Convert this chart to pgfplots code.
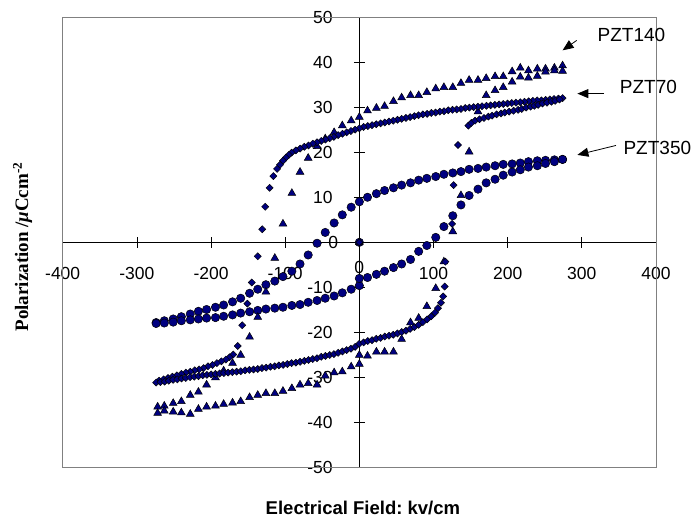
\documentclass[border=0pt]{standalone}
\usepackage{fontspec}
\setmainfont{Liberation Sans}
\newfontfamily\timesbold{Liberation Serif}
\usepackage{pgfplots}
\pgfplotsset{compat=1.18}
\usetikzlibrary{arrows.meta}
\definecolor{navy}{RGB}{0,0,128}
\frenchspacing

\begin{document}
\begin{tikzpicture}
\useasboundingbox (-62.7pt,-56.3pt) rectangle (630.3pt,467.7pt);
\begin{axis}[
  at={(0pt,0pt)}, anchor=south west,
  width=593.3pt, height=450.7pt, scale only axis,
  xmin=-400, xmax=400, ymin=-50, ymax=50,
  axis lines=middle,
  axis line style={-, black, line width=0.7pt},
  every inner x axis line/.append style={-},
  every inner y axis line/.append style={-},
  xtick={-400,-300,...,400}, ytick={-50,-40,...,50},
  minor tick num=0,
  tick align=center, major tick length=11pt,
  tick style={black, line width=0.7pt},
  /pgf/number format/assume math mode=true,
  ticklabel style={font=\fontsize{17.5pt}{20pt}\selectfont, inner sep=0pt},
  xticklabel style={anchor=north, yshift=-19pt},
  yticklabel style={anchor=east, xshift=-21pt},
  clip=false,
]
\draw[gray, line width=0.8pt] (rel axis cs:0,0) rectangle (rel axis cs:1,1);

% PZT350
\addplot[only marks, mark=*, mark size=4.2pt,
  mark options={fill=navy, draw=black, line width=0.5pt}] coordinates {
 (0,0)
 (274,18.4) (263,18.3) (251,18.2) (240,18.1) (228,17.9) (217,17.6) (206,17.4)
 (194,17.3) (183,17.0) (171,16.7) (160,16.4) (148,16.2) (137,15.7) (126,15.4)
 (114,15.1) (103,14.6) (91,14.2) (80,13.8) (69,13.2) (57,12.7) (46,12.1)
 (34,11.5) (23,10.8) (11,10.0) (0,9.0) (-11,7.8) (-23,6.1) (-34,4.3) (-46,2.2)
 (-57,-0.2) (-69,-2.8) (-80,-4.8) (-91,-6.4) (-103,-7.6) (-114,-8.6) (-126,-9.4)
 (-137,-10.4) (-148,-11.3) (-160,-12.4) (-171,-13.2) (-183,-13.9) (-194,-14.4)
 (-206,-14.9) (-217,-15.3) (-228,-15.9) (-240,-16.5) (-251,-17.0) (-263,-17.4)
 (-274,-17.8)
 (-274,-18.0) (-263,-17.9) (-251,-17.7) (-240,-17.4) (-228,-17.2) (-217,-17.0)
 (-206,-16.8) (-194,-16.7) (-183,-16.4) (-171,-16.1) (-160,-15.7) (-148,-15.4)
 (-137,-15.1) (-126,-14.8) (-114,-14.6) (-103,-14.4) (-91,-14.0) (-80,-13.8)
 (-69,-13.3) (-57,-12.9) (-46,-12.4) (-34,-11.9) (-23,-11.2) (-11,-10.4)
 (0,-9.6) (0,-8.0) (11,-7.8) (23,-7.1) (34,-6.4) (46,-5.6) (57,-4.8) (69,-3.8)
 (80,-2.0) (91,-0.7) (103,1.1) (114,3.5) (126,5.9) (137,8.3) (148,10.4)
 (160,11.8) (171,13.2) (183,14.0) (194,14.9) (206,15.6) (217,16.1) (228,16.7)
 (240,17.0) (251,17.5) (263,17.9) (274,18.4)
};

% PZT140
\addplot[only marks, mark=triangle*, mark size=4.5pt,
  mark options={fill=navy, draw=black, line width=0.5pt}] coordinates {
 (0,0)
 (274,39.2) (263,38.7) (251,38.5) (240,38.5) (228,38.1) (217,38.7) (206,37.9)
 (194,36.8) (183,36.8) (171,36.4) (160,36.0) (148,36.0) (137,35.3) (126,34.4)
 (114,34.4) (103,34.1) (91,33.3) (80,32.6) (69,32.6) (57,32.1) (46,31.3)
 (34,30.2) (23,29.8) (11,29.2) (0,27.8) (-11,27.0) (-23,25.9) (-34,24.4)
 (-46,23.0) (-57,21.3) (-69,18.7) (-80,15.6) (-91,10.9) (-103,4.1)
 (-114,-3.5) (-126,-11.0) (-137,-16.6) (-148,-21.0) (-160,-25.0) (-171,-26.8)
 (-183,-28.5) (-194,-30.0) (-206,-31.6) (-217,-33.2) (-228,-33.9) (-240,-35.3)
 (-251,-35.7) (-263,-36.3) (-272,-36.5)
 (-272,-37.9) (-263,-37.4) (-251,-37.6) (-240,-37.8) (-228,-38.1) (-217,-37.0)
 (-206,-36.5) (-194,-36.3) (-183,-35.9) (-171,-35.6) (-160,-35.3) (-148,-34.4)
 (-137,-33.9) (-126,-33.5) (-114,-33.5) (-103,-33.0) (-91,-32.4) (-80,-31.6)
 (-69,-31.3) (-57,-31.6) (-46,-29.6) (-34,-28.9) (-23,-28.7) (-11,-27.6)
 (0,-27.0) (0,-25.0) (11,-25.2) (23,-24.3) (34,-24.3) (46,-24.3) (57,-21.5)
 (69,-17.8) (80,-16.8) (91,-14.2) (103,-10.2) (114,-4.3) (126,2.4) (137,10.4)
 (148,20.1) (160,29.0) (171,32.6) (183,33.7) (194,34.4) (206,35.6) (217,36.7)
 (228,36.5) (240,36.9) (251,37.8) (263,38.1) (274,38.0)
};

% PZT70
\addplot[only marks, mark=square*, mark size=2.5pt,
  mark options={rotate=45, fill=navy, draw=black, line width=0.5pt}] coordinates {
 (0,0)
 (274.0,32.0) (268.3,31.9) (262.6,31.8) (256.9,31.7) (251.2,31.6) (245.5,31.5)
 (239.8,31.5) (234.0,31.4) (228.3,31.3) (222.6,31.2) (216.9,31.1) (211.2,31.0)
 (205.5,30.9) (199.8,30.8) (194.1,30.7) (188.4,30.6) (182.7,30.5) (177.0,30.4)
 (171.3,30.3) (165.5,30.2) (159.8,30.1) (154.1,30.0) (148.4,29.9) (142.7,29.8)
 (137.0,29.6) (131.3,29.5) (125.6,29.4) (119.9,29.3) (114.2,29.1) (108.5,29.0)
 (102.8,28.8) (97.1,28.7) (91.4,28.5) (85.6,28.4) (79.9,28.2) (74.2,28.0)
 (68.5,27.8) (62.8,27.6) (57.1,27.4) (51.4,27.2) (45.7,27.0) (40.0,26.8)
 (34.3,26.6) (28.6,26.4) (22.8,26.2) (17.1,26.0) (11.4,25.8) (5.7,25.6) (0,25.3)
 (-5.7,25.0) (-11.4,24.7) (-17.1,24.4) (-22.8,24.1) (-28.6,23.8) (-34.3,23.4)
 (-40.0,23.1) (-45.7,22.8) (-51.4,22.5) (-57.1,22.2) (-62.8,21.9) (-68.5,21.5)
 (-74.2,21.2) (-79.9,20.8) (-85.6,20.4) (-91.4,19.9) (-95,19.4) (-99,18.8)
 (-103,18.1) (-107,17.2) (-111,16.3) (-116,14.7) (-121,12.1) (-127,7.9)
 (-131,2.9) (-137,-3.1) (-145,-8.9) (-151,-13.6) (-158,-18.4) (-164,-23.0)
 (-170,-24.9) (-175,-25.5) (-180,-26.0) (-186,-26.4) (-192,-26.8) (-198,-27.2)
 (-204,-27.5) (-210,-27.9) (-216,-28.2) (-222,-28.4) (-228,-28.7) (-234,-28.9)
 (-240,-29.2) (-246,-29.5) (-252,-29.8) (-258,-30.1) (-264,-30.4) (-270,-30.7)
 (-274,-31.1) (-268.3,-31.0) (-262.6,-30.9) (-256.9,-30.7) (-251.2,-30.5)
 (-245.5,-30.4) (-239.8,-30.2) (-234.0,-30.1) (-228.3,-29.9) (-222.6,-29.8)
 (-216.9,-29.7) (-211.2,-29.5) (-205.5,-29.4) (-199.8,-29.3) (-194.1,-29.2)
 (-188.4,-29.1) (-182.7,-29.0) (-177.0,-28.9) (-171.3,-28.8) (-165.5,-28.7)
 (-159.8,-28.6) (-154.1,-28.4) (-148.4,-28.3) (-142.7,-28.2) (-137.0,-28.1)
 (-131.3,-27.9) (-125.6,-27.8) (-119.9,-27.6) (-114.2,-27.5) (-108.5,-27.3)
 (-102.8,-27.2) (-97.1,-27.0) (-91.4,-26.8) (-85.6,-26.7) (-79.9,-26.5)
 (-74.2,-26.3) (-68.5,-26.1) (-62.8,-25.9) (-57.1,-25.7) (-51.4,-25.4)
 (-45.7,-25.2) (-40.0,-25.0) (-34.3,-24.8) (-28.6,-24.5) (-22.8,-24.2)
 (-17.1,-23.9) (-11.4,-23.6) (-5.7,-23.2) (0,-22.5)
 (5.7,-22.2) (11.4,-21.9) (17.1,-21.7) (22.8,-21.4) (28.6,-21.2) (34.3,-20.9)
 (40.0,-20.7) (45.7,-20.5) (51.4,-20.2) (57.1,-19.9) (62.8,-19.6) (68.5,-19.2)
 (74.2,-18.8) (79.9,-18.3) (85.6,-17.7) (91.4,-17.1) (97,-16.4) (102,-15.6)
 (106,-14.6) (110,-13.4) (113,-12.0) (115,-9.8) (116,-4.3) (125,4.1)
 (127,12.7) (133,21.6) (147,25.9) (151,26.5) (156,27.0) (162,27.3) (168,27.6)
 (174,27.9) (179,28.1) (185,28.4) (191,28.6) (196,28.8) (202,29.0) (208,29.2)
 (214,29.4) (219,29.6) (225,29.9) (231,30.1) (236,30.3) (241,30.5) (247,30.8)
 (253,31.0) (259,31.2) (264,31.4) (270,31.7)
};

% the 0 labels that axis lines=middle leaves out
\node[anchor=north, inner sep=0pt, yshift=-19pt, font=\fontsize{17.5pt}{20pt}\selectfont] at (axis cs:0,0) {0};
\node[anchor=east, inner sep=0pt, xshift=-21pt, font=\fontsize{17.5pt}{20pt}\selectfont] at (axis cs:0,0) {0};

% labels and arrows
\node[rotate=90, font=\fontsize{19pt}{22pt}\selectfont] at (rel axis cs:-0.0674,0.49)
  {\timesbold\bfseries Polarization /\textit{μ}Ccm\textsuperscript{-2}};
\node[font=\fontsize{18.5pt}{22pt}\selectfont\bfseries] at (rel axis cs:0.506,-0.0894)
  {Electrical Field: kv/cm};

\node[anchor=west, inner sep=0pt, font=\fontsize{19pt}{22pt}\selectfont] at (axis cs:321,46.0) {PZT140};
\node[anchor=west, inner sep=0pt, font=\fontsize{19pt}{22pt}\selectfont] at (axis cs:351,34.4) {PZT70};
\node[anchor=west, inner sep=0pt, font=\fontsize{19pt}{22pt}\selectfont] at (axis cs:356,21.0) {PZT350};
\draw[-{Triangle[length=11pt,width=9pt]}, line width=0.8pt] (axis cs:293,44.8) -- (axis cs:274,42.6);
\draw[-{Triangle[length=11pt,width=9pt]}, line width=0.8pt] (axis cs:330,33.0) -- (axis cs:294,33.0);
\draw[-{Triangle[length=11pt,width=9pt]}, line width=0.8pt] (axis cs:346,21.5) -- (axis cs:294,19.4);
\end{axis}
\end{tikzpicture}
\end{document}
